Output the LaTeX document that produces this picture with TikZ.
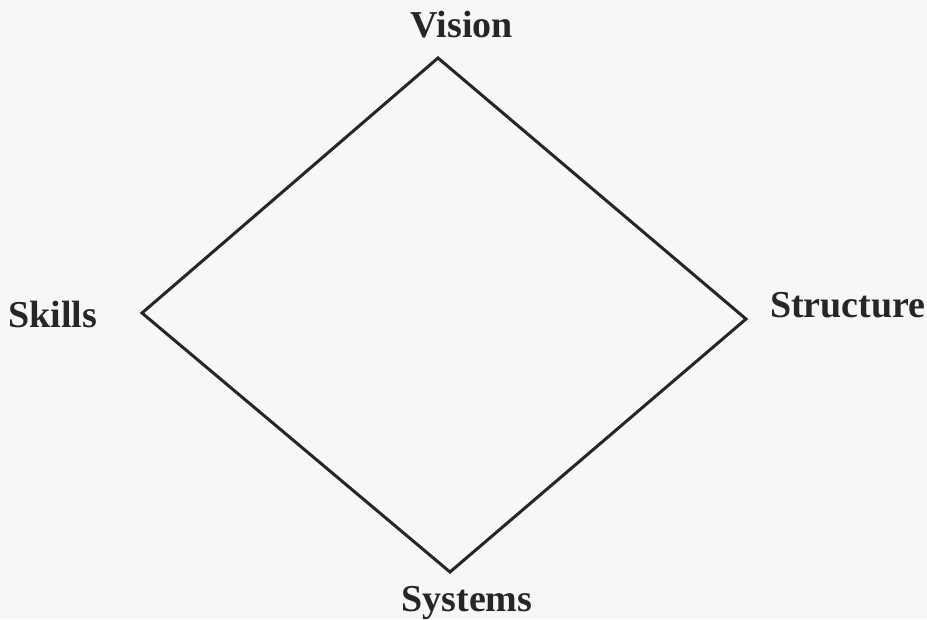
\documentclass[tikz,border=0pt]{standalone}
\usepackage{fontspec}
\setmainfont{Liberation Serif}
\definecolor{paper}{HTML}{F7F7F5}
\definecolor{ink}{HTML}{262626}
\begin{document}
\begin{tikzpicture}[x=1pt,y=1pt,
  lbl/.style={font=\fontsize{38}{42}\selectfont\bfseries, text=ink, inner sep=0pt},
  edge/.style={draw=ink, line width=3pt, line join=miter}]
\fill[paper] (0,0) rectangle (927,619);
\useasboundingbox (0,0) rectangle (927,619);
\coordinate (top) at (438,561);
\coordinate (right) at (746,300);
\coordinate (bottom) at (450,47);
\coordinate (left) at (142,306);
\draw[edge] (top) -- (right) -- (bottom) -- (left) -- cycle;
\node[lbl, anchor=base] (vision) at (462,581) {Vision};
\node[lbl, anchor=base west] (skills) at (8,291) {Skills};
\node[lbl, anchor=base west] (structure) at (770,301) {Structure};
\node[lbl, anchor=base] (systems) at (467,8) {Systems};
\end{tikzpicture}
\end{document}
